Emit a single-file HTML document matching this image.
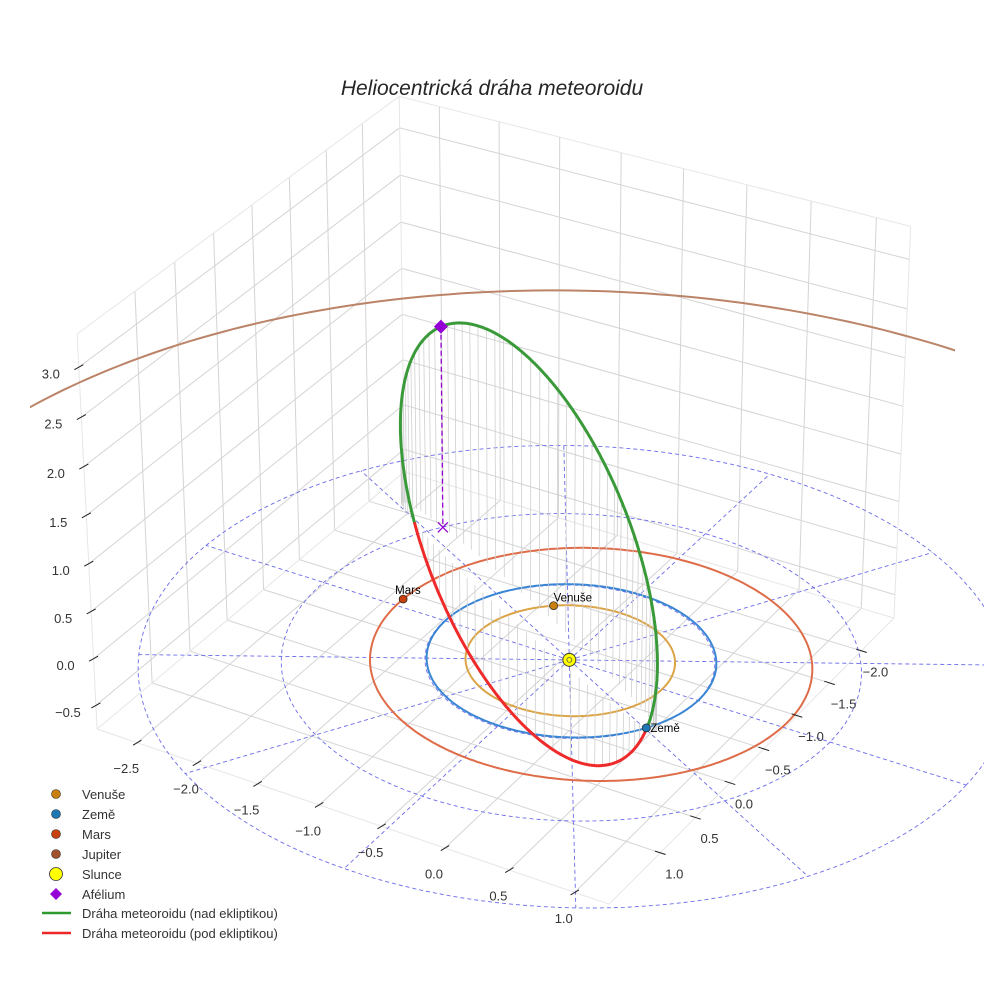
<!DOCTYPE html>
<html><head><meta charset="utf-8"><title>Heliocentrická dráha meteoroidu</title>
<style>
html,body{margin:0;padding:0;background:#fff;overflow:hidden;}
svg{display:block;font-family:"Liberation Sans",DejaVu Sans,sans-serif;}
</style></head>
<body>
<svg id="chart" width="984" height="984" viewBox="0 0 984 984" xmlns="http://www.w3.org/2000/svg">
<defs><clipPath id="axclip"><rect x="30" y="0" width="925" height="984"/></clipPath></defs>
<text x="492" y="95" text-anchor="middle" font-size="21" font-style="italic" fill="#262626">Heliocentrická dráha meteoroidu</text>
<g id="grid"></g>
<g id="eclip"></g>
<g id="orbits" clip-path="url(#axclip)"></g>
<g id="stems"></g>
<g id="met"></g>
<g id="marks"></g>
<g id="ticks"></g>
<g id="legend" font-size="13" fill="#333">
 <circle cx="56" cy="794" r="4.5" fill="#c8800e" stroke="#333" stroke-width="0.6"/>
 <text x="82" y="799">Venuše</text>
 <circle cx="56" cy="814" r="4.5" fill="#1f77b4" stroke="#333" stroke-width="0.6"/>
 <text x="82" y="819">Země</text>
 <circle cx="56" cy="834" r="4.5" fill="#c8400e" stroke="#333" stroke-width="0.6"/>
 <text x="82" y="839">Mars</text>
 <circle cx="56" cy="854" r="4.5" fill="#a0522d" stroke="#333" stroke-width="0.6"/>
 <text x="82" y="859">Jupiter</text>
 <circle cx="56" cy="874" r="6.5" fill="#ffff00" stroke="#333" stroke-width="0.8"/>
 <text x="82" y="879">Slunce</text>
 <polygon points="56,888 62,894 56,900 50,894" fill="#9400d3"/>
 <text x="82" y="899">Afélium</text>
 <line x1="42" y1="913" x2="71" y2="913" stroke="#2e9a2e" stroke-width="2.5"/>
 <text x="82" y="918">Dráha meteoroidu (nad ekliptikou)</text>
 <line x1="42" y1="933" x2="71" y2="933" stroke="#ee2626" stroke-width="2.5"/>
 <text x="82" y="938">Dráha meteoroidu (pod ekliptikou)</text>
</g>
</svg>
<script>
// ---- data ----
const xTicks = [-2.5, -2, -1.5, -1, -0.5, 0, 0.5, 1];
const yTicks = [-2, -1.5, -1, -0.5, 0, 0.5, 1];
const zTicks = [-0.5, 0, 0.5, 1, 1.5, 2, 2.5, 3];
const xLim = [-2.84, 1.26];
const yLim = [-2.52, 1.71];
const zLim = [-0.754, 3.33];
const planetNames = ['Venuše', 'Země', 'Mars', 'Jupiter'];
const planetA = [0.723, 1.0, 1.524, 5.203];
const planetE = [0.0068, 0.0167, 0.0934, 0.0484];
const planetPeri = [131, 103, 150, 60];
const planetLon = [232, 29.3, 184, 45];
const ringRadii = [1, 2, 3];
const radialAngles = [0, 30, 60, 90, 120, 150, 180, 210, 240, 270, 300, 330];
const metA = 1.905, metE = 0.533, metI = 94, metNode = 29.3, metPeri = 313;

// ---- projection calibration (data point -> pixel) ----
const calib = [];
xTicks.forEach((t, i) => calib.push([t, yLim[1], zLim[0], [141,202,264,327,390,455,520,585][i], [741,760,780,800,822,843,865,885][i]]));
yTicks.forEach((t, i) => calib.push([xLim[1], t, zLim[0], [862,828,795,762,728,693,658][i], [651,683,717,750,785,822,858][i]]));
zTicks.forEach((t, i) => calib.push([xLim[0], yLim[1], t, [96,94,92,90,88,86,84,83][i], [702,655,608,560,512,463,415,366][i]]));
calib.push([xLim[0], yLim[1], zLim[0], 99, 726]);
calib.push([xLim[0], yLim[1], zLim[1], 81, 334]);
calib.push([xLim[0], yLim[0], zLim[1], 400, 101]);
calib.push([xLim[1], yLim[0], zLim[1], 912, 220]);
calib.push([xLim[1], yLim[0], zLim[0], 896, 613]);
calib.push([xLim[1], yLim[1], zLim[0], 618, 895]);
for (let k = 0; k < 3; k++) {
  calib.push([0, 0, 0, 567, 662]);
  calib.push([-2.598, 1.5, 0, 127, 662]);
  calib.push([-1.732, 1, 0, 275, 662]);
  calib.push([1.732, -1, 0, 860, 662]);
  calib.push([1.5, 2.598, 0, 571, 914]);
  calib.push([1, 1.732, 0, 570, 822]);
  calib.push([-1.5, -2.598, 0, 566, 446]);
}

function solve(A, b) {
  const n = b.length;
  for (let c = 0; c < n; c++) {
    let p = c;
    for (let r = c + 1; r < n; r++) if (Math.abs(A[r][c]) > Math.abs(A[p][c])) p = r;
    [A[c], A[p]] = [A[p], A[c]]; [b[c], b[p]] = [b[p], b[c]];
    for (let r = c + 1; r < n; r++) {
      const f = A[r][c] / A[c][c];
      for (let k = c; k < n; k++) A[r][k] -= f * A[c][k];
      b[r] -= f * b[c];
    }
  }
  const x = new Array(n).fill(0);
  for (let r = n - 1; r >= 0; r--) {
    let s = b[r];
    for (let k = r + 1; k < n; k++) s -= A[r][k] * x[k];
    x[r] = s / A[r][r];
  }
  return x;
}
const NtN = Array.from({length: 11}, () => new Array(11).fill(0));
const Ntb = new Array(11).fill(0);
calib.forEach(([X, Y, Z, u, v]) => {
  const rows = [[X, Y, Z, 1, 0, 0, 0, 0, -u*X, -u*Y, -u*Z, u], [0, 0, 0, 0, X, Y, Z, 1, -v*X, -v*Y, -v*Z, v]];
  rows.forEach(r => {
    for (let i = 0; i < 11; i++) { Ntb[i] += r[i] * r[11]; for (let j = 0; j < 11; j++) NtN[i][j] += r[i] * r[j]; }
  });
});
const H = solve(NtN, Ntb);
function P(x, y, z) {
  const d = H[8]*x + H[9]*y + H[10]*z + 1;
  return [(H[0]*x + H[1]*y + H[2]*z + H[3]) / d, (H[4]*x + H[5]*y + H[6]*z + H[7]) / d, d];
}
const NS = 'http://www.w3.org/2000/svg';
function mk(parent, tag, attrs) {
  const el = document.createElementNS(NS, tag);
  for (const k in attrs) el.setAttribute(k, attrs[k]);
  document.getElementById(parent).appendChild(el);
  return el;
}
function seg(parent, a, b, stroke, w, dash) {
  const p = P(...a), q = P(...b);
  const at = {x1: p[0].toFixed(1), y1: p[1].toFixed(1), x2: q[0].toFixed(1), y2: q[1].toFixed(1), stroke: stroke, 'stroke-width': w};
  if (dash) at['stroke-dasharray'] = dash;
  return mk(parent, 'line', at);
}
function pathOf(pts) {
  return pts.map((p, i) => (i ? 'L' : 'M') + p[0].toFixed(1) + ',' + p[1].toFixed(1)).join('');
}
const [x0, x1] = xLim, [y0, y1] = yLim, [z0, z1] = zLim;
const GC = '#d4d4d4';

// ---- panes gridlines ----
xTicks.forEach(t => {
  const a = seg('grid', [t, y0, z0], [t, y1, z0], GC, 1);
  
  
  const b = seg('grid', [t, y0, z0], [t, y0, z1], GC, 1);
  
  
});
yTicks.forEach(t => {
  const a = seg('grid', [x0, t, z0], [x1, t, z0], GC, 1);
  
  
  const b = seg('grid', [x0, t, z0], [x0, t, z1], GC, 1);
  
  
});
zTicks.forEach(t => {
  const a = seg('grid', [x0, y0, t], [x0, y1, t], GC, 1);
  
  
  const b = seg('grid', [x0, y0, t], [x1, y0, t], GC, 1);
  
  
});
[[[x0,y0,z1],[x0,y1,z1]],[[x0,y0,z1],[x1,y0,z1]],[[x0,y0,z0],[x0,y0,z1]],[[x1,y0,z0],[x1,y0,z1]],[[x0,y1,z0],[x0,y1,z1]],
 [[x0,y1,z0],[x1,y1,z0]],[[x1,y0,z0],[x1,y1,z0]],[[x0,y0,z0],[x1,y0,z0]],[[x0,y0,z0],[x0,y1,z0]]].forEach(e => {
  const l = seg('grid', e[0], e[1], '#e6e6e6', 1);
  
  
});

// ---- ecliptic rings & radials ----
const DC = '#6b6bea';
ringRadii.forEach(r => {
  const pts = [];
  for (let k = 0; k <= 360; k += 2) pts.push(P(r*Math.cos(k*Math.PI/180), r*Math.sin(k*Math.PI/180), 0));
  const el = mk('eclip', 'path', {d: pathOf(pts), fill: 'none', stroke: DC, 'stroke-width': 0.9, 'stroke-dasharray': '4,3'});
  
  
});
radialAngles.forEach(a => {
  const R = ringRadii[ringRadii.length - 1];
  const el = seg('eclip', [0, 0, 0], [R*Math.cos(a*Math.PI/180), R*Math.sin(a*Math.PI/180), 0], DC, 0.9, '4,3');
  
  
});

// ---- planet orbits ----
const orbitColors = ['#dba447', '#3a86d4', '#df6c48', '#bb8468'];
const markerColors = ['#c8800e', '#1f77b4', '#c8400e', '#a0522d'];
function planetXY(i, L) {
  const a = planetA[i], e = planetE[i];
  const r = a*(1 - e*e)/(1 + e*Math.cos((L - planetPeri[i])*Math.PI/180));
  return [r*Math.cos(L*Math.PI/180), r*Math.sin(L*Math.PI/180), 0];
}
planetNames.forEach((nm, i) => {
  const pts = [];
  for (let L = 0; L <= 360; L += 1) {
    const p = P(...planetXY(i, L));
    if (i < 3 || (p[2] > 0.05 && p[1] < 600)) pts.push(p);
  }
  const el = mk('orbits', 'path', {d: pathOf(pts), fill: 'none', stroke: orbitColors[i], 'stroke-width': 2});
  
  
});

// ---- meteoroid orbit ----
function metPos(Edeg) {
  const E = Edeg*Math.PI/180, d = Math.PI/180;
  const xp = metA*(Math.cos(E) - metE), yp = metA*Math.sqrt(1 - metE*metE)*Math.sin(E);
  const O = metNode*d, w = metPeri*d, I = metI*d;
  const cO = Math.cos(O), sO = Math.sin(O), cw = Math.cos(w), sw = Math.sin(w), ci = Math.cos(I), si = Math.sin(I);
  return [xp*(cO*cw - sO*sw*ci) - yp*(cO*sw + sO*cw*ci),
          xp*(sO*cw + cO*sw*ci) + yp*(cO*cw*ci - sO*sw),
          xp*sw*si + yp*cw*si];
}
for (let E = -180; E < 180; E += 4) {
  const q = metPos(E);
  const el = seg('stems', q, [q[0], q[1], 0], '#cfcfcf', 0.8);
  
  
}
let runs = [], cur = [], curSign = null;
for (let E = -180; E <= 180; E += 0.5) {
  const q = metPos(E), s = q[2] >= 0;
  if (curSign !== null && s !== curSign) { cur.push(P(...q)); runs.push([curSign, cur]); cur = []; }
  curSign = s; cur.push(P(...q));
}
runs.push([curSign, cur]);
runs.forEach(([above, pts]) => {
  const el = mk('met', 'path', {d: pathOf(pts), fill: 'none', stroke: above ? '#3a9a3a' : '#ee2a2a', 'stroke-width': 3, 'stroke-linecap': 'round'});
  
  
});

// ---- aphelion ----
const aph = metPos(180);
const apl = seg('marks', aph, [aph[0], aph[1], 0], '#9400d3', 1.3, '5,3');


const af = P(aph[0], aph[1], 0);
const ax = mk('marks', 'path', {d: `M${af[0]-5},${af[1]-5}L${af[0]+5},${af[1]+5}M${af[0]-5},${af[1]+5}L${af[0]+5},${af[1]-5}`, stroke: '#9400d3', 'stroke-width': 1.3});


const ap = P(...aph);
const ad = mk('marks', 'polygon', {points: `${ap[0]},${ap[1]-7} ${ap[0]+7},${ap[1]} ${ap[0]},${ap[1]+7} ${ap[0]-7},${ap[1]}`, fill: '#9400d3'});



// ---- sun & planets ----
const sp = P(0, 0, 0);
const sun = mk('marks', 'circle', {cx: sp[0], cy: sp[1], r: 6.5, fill: '#ffff00', stroke: '#333', 'stroke-width': 0.9});


const sun2 = mk('marks', 'circle', {cx: sp[0], cy: sp[1], r: 2.5, fill: 'none', stroke: '#555', 'stroke-width': 0.8});


const labelOff = [[0, -4], [4, 4], [-8, -5], [0, -4]];
planetNames.forEach((nm, i) => {
  const p = P(...planetXY(i, planetLon[i]));
  if (p[2] <= 0.05 || p[1] > 984 || p[0] > 984) return;
  const c = mk('marks', 'circle', {cx: p[0], cy: p[1], r: 4, fill: markerColors[i], stroke: '#222', 'stroke-width': 0.7});
  
  
  const t = mk('marks', 'text', {x: p[0] + labelOff[i][0], y: p[1] + labelOff[i][1], 'font-size': 11.5, fill: '#000'});
  t.textContent = nm;
  
  
});

// ---- ticks & labels ----
function fmt(v) { return (v < 0 ? '\u2212' : '') + Math.abs(v).toFixed(1); }
function tick(pt, half, off, v) {
  const l = mk('ticks', 'line', {x1: pt[0]-half[0], y1: pt[1]-half[1], x2: pt[0]+half[0], y2: pt[1]+half[1], stroke: '#222', 'stroke-width': 1});
  
  
  const t = mk('ticks', 'text', {x: pt[0]+off[0], y: pt[1]+off[1]+4.5, 'text-anchor': 'middle', 'font-size': 13, fill: '#333'});
  t.textContent = fmt(v);
  
  
}
xTicks.forEach(v => tick(P(v, y1, z0), [4.2, -2.5], [-11, 26], v));
yTicks.forEach(v => tick(P(x1, v, z0), [5.3, 1.7], [14, 21], v));
zTicks.forEach(v => tick(P(x0, y1, v), [4.5, -2.5], [-28, 7], v));
</script>
</body></html>
